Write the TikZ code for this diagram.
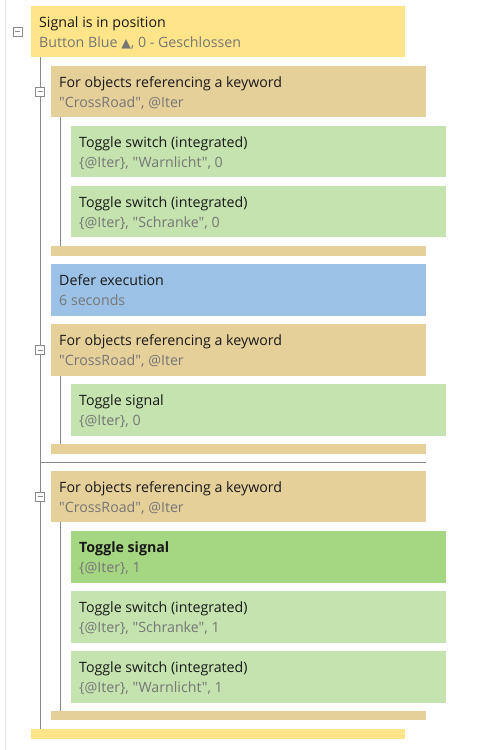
\documentclass[tikz,border=0pt]{standalone}
\usepackage{fontspec}
\newfontfamily\mainf{Open Sans}
\newfontfamily\symfont{DejaVu Sans}
\usetikzlibrary{calc}
\definecolor{cyel}{HTML}{FFE48A}
\definecolor{ctan}{HTML}{E6D09A}
\definecolor{cgrn}{HTML}{C4E3AE}
\definecolor{cgrnd}{HTML}{A5D682}
\definecolor{cblu}{HTML}{9BC2E6}
\definecolor{subgray}{HTML}{767676}
\definecolor{treegray}{HTML}{8A8A8A}
\definecolor{faintgray}{HTML}{E2E2E2}
\tikzset{
  blk/.style={anchor=north west, inner sep=0pt, minimum width=375pt, minimum height=51pt, draw=none},
  barbox/.style={anchor=north west, inner sep=0pt, minimum width=375pt, minimum height=10pt, draw=none},
  ttl/.style={anchor=base west, inner sep=0pt, font=\mainf\fontsize{14.2}{16}\selectfont, text=black!90},
  subt/.style={ttl, text=subgray},
  tree/.style={draw=treegray, line width=1pt},
  coll/.style={draw=treegray, fill=white, minimum size=9pt, inner sep=0pt, line width=0.7pt,
    path picture={\draw[treegray, line width=0.7pt] ([xshift=2pt]path picture bounding box.west) -- ([xshift=-2pt]path picture bounding box.east);}}
}
\newcommand{\blktext}[3]{%
  \node[ttl] (#1t) at ($(#1.north west)+(8,21.7)$) {#2};
  \node[subt] (#1s) at ($(#1.north west)+(8,41.3)$) {#3};}
\begin{document}
\begin{tikzpicture}[x=1pt, y=-1pt]
\useasboundingbox (0,0) rectangle (491,750);
\coordinate (ftop) at (5,0);
\coordinate (fbot) at (5,750);
\draw[faintgray, line width=1pt] (ftop) -- (fbot);
\coordinate (x1) at (40,0);
\coordinate (x2) at (60,0);
\coordinate (sep) at (40,462);

% top yellow
\node[blk, fill=cyel, minimum width=374pt] (s) at (31,6) {};
\blktext{s}{Signal is in position}{Button Blue {\symfont\fontsize{12.5}{14}\selectfont ▲}, 0 - Geschlossen}

% for-each 1
\node[blk, fill=ctan] (f1) at (51,66) {};
\blktext{f1}{For objects referencing a keyword}{"CrossRoad", @Iter}
\node[blk, fill=cgrn] (g1) at (71,126) {};
\blktext{g1}{Toggle switch (integrated)}{\{@Iter\}, "Warnlicht", 0}
\node[blk, fill=cgrn] (g2) at (71,186) {};
\blktext{g2}{Toggle switch (integrated)}{\{@Iter\}, "Schranke", 0}
\node[barbox, fill=ctan] (e1) at (51,246) {};

% defer
\node[blk, fill=cblu, minimum height=52pt] (d) at (51,264) {};
\blktext{d}{Defer execution}{6 seconds}

% for-each 2
\node[blk, fill=ctan, minimum height=52pt] (f2) at (51,324) {};
\blktext{f2}{For objects referencing a keyword}{"CrossRoad", @Iter}
\node[blk, fill=cgrn, minimum height=52pt] (g3) at (71,384) {};
\blktext{g3}{Toggle signal}{\{@Iter\}, 0}
\node[barbox, fill=ctan] (e2) at (51,444) {};

% for-each 3
\node[blk, fill=ctan] (f3) at (51,471) {};
\blktext{f3}{For objects referencing a keyword}{"CrossRoad", @Iter}
\node[blk, fill=cgrnd, minimum height=52pt] (g4) at (71,531) {};
\blktext{g4}{\textbf{Toggle signal}}{\{@Iter\}, 1}
\node[blk, fill=cgrn, minimum height=52pt] (g5) at (71,591) {};
\blktext{g5}{Toggle switch (integrated)}{\{@Iter\}, "Schranke", 1}
\node[blk, fill=cgrn, minimum height=52pt] (g6) at (71,651) {};
\blktext{g6}{Toggle switch (integrated)}{\{@Iter\}, "Warnlicht", 1}
\node[barbox, fill=ctan, minimum height=9pt] (e3) at (51,711) {};

% bottom yellow bar
\node[barbox, fill=cyel, minimum width=374pt] (es) at (31,729) {};

% tree lines
\draw[tree] (x1 |- s.south) -- (x1 |- es.north);
\draw[tree] (x2 |- f1.south) -- (x2 |- e1.north);
\draw[tree] (x2 |- f2.south) -- (x2 |- e2.north);
\draw[tree] (x2 |- f3.south) -- (x2 |- e3.north);
\draw[tree] (sep) -- (sep -| e2.east);

% collapse icons
\node[coll] (c0) at ($(s.west)+(-13.5,0)$) {};
\node[coll] (c1) at (x1 |- f1.west) {};
\node[coll] (c2) at (x1 |- f2.west) {};
\node[coll] (c3) at (x1 |- f3.west) {};
\end{tikzpicture}
\end{document}
